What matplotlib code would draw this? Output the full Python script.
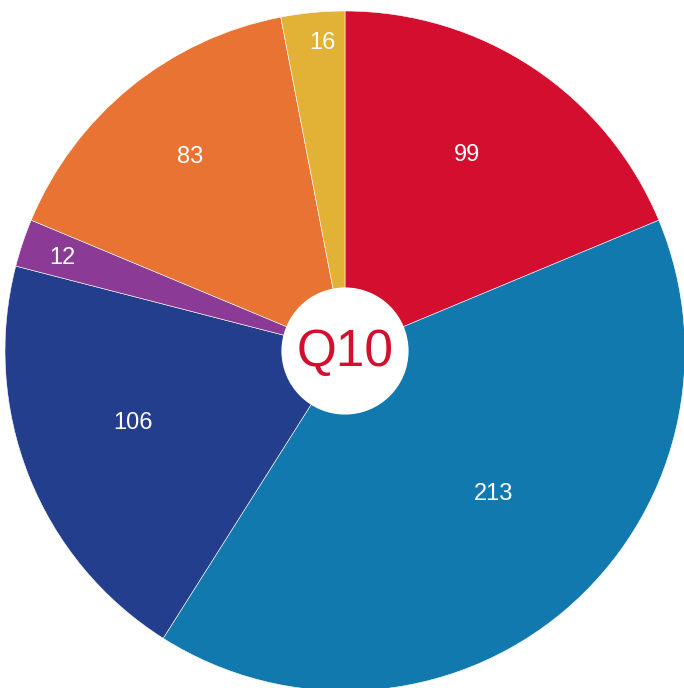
import matplotlib
matplotlib.use("Agg")
import matplotlib.pyplot as plt
from matplotlib.patches import Circle

values = [99, 213, 106, 12, 83, 16]
labels = ["99", "213", "106", "12", "83", "16"]
colors = ["#D40E2E", "#1279AE", "#233E8C", "#8B3A96", "#E97333", "#E2B236"]
label_pos = [(0.359, 0.576), (0.438, -0.421), (-0.624, -0.212),
             (-0.832, 0.274), (-0.456, 0.571), (-0.065, 0.906)]
center_text = "Q10"

W, H = 684, 688
cx, cy, R = 345, 351, 340

fig = plt.figure(figsize=(W / 100, H / 100), dpi=100)
ax = fig.add_axes([0, 0, 1, 1])
ax.pie(values, colors=colors, startangle=90, counterclock=False, radius=1,
       wedgeprops=dict(edgecolor="white", linewidth=0.4))
ax.set_xlim(-cx / R, (W - cx) / R)
ax.set_ylim((cy - H) / R, cy / R)
ax.set_aspect("auto")
ax.axis("off")

for lab, (x, y) in zip(labels, label_pos):
    ax.text(x, y, lab, ha="center", va="center", color="white",
            fontsize=17, family="Liberation Sans")

ax.add_patch(Circle((0, 0), 0.187, facecolor="white", edgecolor="none", zorder=5))
ax.text(0, -0.005, center_text, ha="center", va="center", color="#D40E2E",
        fontsize=37, family="Liberation Sans", zorder=6)

fig.savefig("out.png", dpi=100)
